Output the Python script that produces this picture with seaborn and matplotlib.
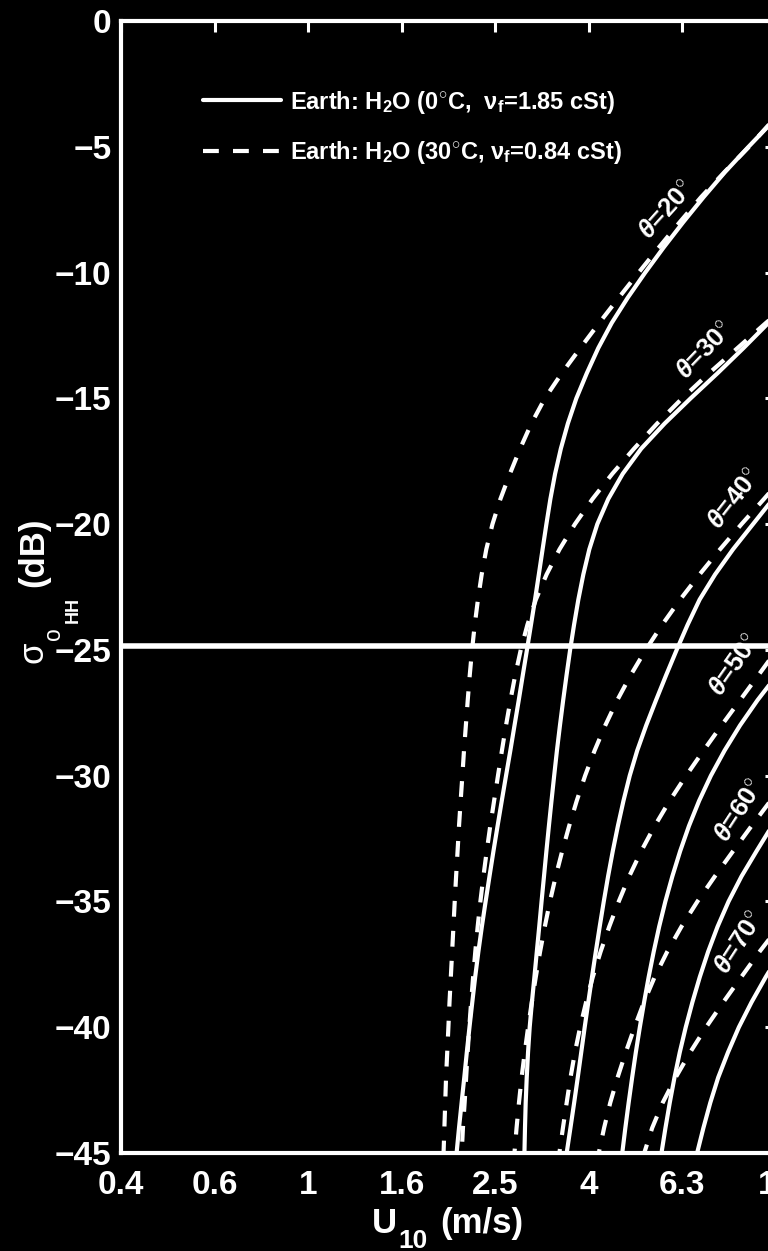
import matplotlib
matplotlib.use("Agg")
import matplotlib.pyplot as plt
from matplotlib.lines import Line2D
from matplotlib.ticker import FixedLocator, FixedFormatter, NullLocator
import pandas as pd
import seaborn as sns

# ---------------------------------------------------------------------------
# Backscatter sigma0_HH (dB) versus wind speed U10 (m/s), water at 0 C and 30 C
# ---------------------------------------------------------------------------

# theta = 20 deg
sig_0c_20 = [-3.9, -5, -6, -7, -8, -9, -10, -11, -12, -13, -14, -15, -16, -17, -18, -19,
             -20, -21, -22, -23, -24, -25, -26, -27, -28, -29, -30, -31, -32, -33, -34,
             -35, -36, -37, -38, -39, -40, -41, -42, -43, -44, -45]
u10_0c_20 = [9.95, 8.735, 7.783, 7.002, 6.332, 5.753, 5.253, 4.820, 4.456, 4.170, 3.941,
             3.743, 3.590, 3.468, 3.371, 3.294, 3.230, 3.170, 3.112, 3.054, 2.994, 2.935,
             2.876, 2.819, 2.761, 2.705, 2.648, 2.593, 2.540, 2.489, 2.441, 2.395, 2.351,
             2.311, 2.275, 2.243, 2.212, 2.183, 2.156, 2.128, 2.101, 2.076]
sig_30c_20 = [-3.85, -5, -6, -7, -8, -9, -10, -11, -12, -13, -14, -15, -16, -17, -18, -19,
              -20, -21, -22, -23, -24, -25, -26, -27, -28, -29, -30, -31, -32, -33, -34,
              -35, -36, -37, -38, -39, -40, -42, -44, -45]
u10_30c_20 = [9.95, 8.757, 7.764, 6.917, 6.224, 5.619, 5.086, 4.612, 4.190, 3.817, 3.485,
              3.206, 3.000, 2.838, 2.699, 2.576, 2.477, 2.403, 2.349, 2.306, 2.270, 2.240,
              2.215, 2.193, 2.173, 2.153, 2.136, 2.118, 2.101, 2.086, 2.071, 2.057, 2.044,
              2.031, 2.018, 2.005, 1.994, 1.971, 1.955, 1.947]

# theta = 30 deg
sig_0c_30 = [-11.75, -12, -13, -14, -15, -16, -17, -18, -19, -20, -21, -22, -23, -24, -25,
             -26, -27, -28, -29, -30, -31, -32, -33, -34, -35, -36, -37, -38, -39, -40,
             -41, -42, -43, -44, -45]
u10_0c_30 = [9.95, 9.637, 8.523, 7.501, 6.569, 5.781, 5.151, 4.703, 4.380, 4.150, 3.990,
             3.874, 3.780, 3.701, 3.630, 3.567, 3.508, 3.453, 3.402, 3.356, 3.312, 3.270,
             3.230, 3.192, 3.154, 3.118, 3.081, 3.045, 3.008, 2.975, 2.951, 2.932, 2.917,
             2.907, 2.899]
sig_30c_30 = [-11.7, -12, -13, -14, -15, -16, -17, -18, -19, -20, -21, -22, -23, -24, -25,
              -26, -27, -28, -29, -30, -31, -32, -33, -34, -35, -36, -37, -38, -39, -40,
              -41, -42, -43, -44, -45]
u10_30c_30 = [9.95, 9.520, 8.276, 7.194, 6.301, 5.572, 4.972, 4.467, 4.053, 3.717, 3.446,
              3.233, 3.067, 2.942, 2.847, 2.771, 2.706, 2.648, 2.595, 2.545, 2.497, 2.450,
              2.408, 2.369, 2.334, 2.303, 2.276, 2.252, 2.230, 2.210, 2.192, 2.176, 2.160,
              2.142, 2.129]

# theta = 40 deg
sig_0c_40 = [-18.9, -19.3, -20, -21, -22, -23, -24, -25, -26, -27, -28, -29, -30, -31, -32,
             -33, -34, -35, -36, -37, -38, -39, -40, -41, -42, -43, -44, -45]
u10_0c_40 = [9.95, 9.567, 8.930, 8.095, 7.410, 6.866, 6.473, 6.133, 5.824, 5.540, 5.279,
             5.051, 4.868, 4.720, 4.592, 4.478, 4.376, 4.284, 4.199, 4.119, 4.043, 3.970,
             3.900, 3.834, 3.769, 3.703, 3.636, 3.569]
sig_30c_40 = [-18.5, -19, -20, -21, -22, -23, -24, -25, -26, -27, -28, -29, -30, -31, -32,
              -33, -34, -35, -36, -37, -38, -39, -40, -41, -42, -43, -44, -45]
u10_30c_40 = [9.95, 9.427, 8.440, 7.594, 6.866, 6.239, 5.711, 5.266, 4.892, 4.578, 4.316,
              4.095, 3.908, 3.750, 3.613, 3.491, 3.382, 3.287, 3.205, 3.131, 3.066, 3.006,
              2.952, 2.903, 2.859, 2.822, 2.789, 2.760]

# theta = 50 deg
sig_0c_50 = [-26.1, -27, -28, -29, -30, -31, -32, -33, -34, -35, -36, -37, -38, -39, -40,
             -41, -42, -43, -44, -45]
u10_0c_50 = [9.95, 9.130, 8.378, 7.764, 7.258, 6.849, 6.515, 6.239, 6.004, 5.801, 5.627,
             5.477, 5.344, 5.225, 5.116, 5.016, 4.926, 4.842, 4.764, 4.692]
sig_30c_50 = [-25.1, -26, -27, -28, -29, -30, -31, -32, -33, -34, -35, -36, -37, -38, -39,
              -40, -41, -42, -43, -44, -45]
u10_30c_50 = [9.95, 9.175, 8.378, 7.650, 7.002, 6.426, 5.925, 5.504, 5.151, 4.856, 4.612,
              4.401, 4.217, 4.059, 3.927, 3.813, 3.717, 3.637, 3.569, 3.504, 3.443]

# theta = 60 deg
sig_0c_60 = [-31.8, -32, -33, -34, -35, -36, -37, -38, -39, -40, -41, -42, -43, -44, -45]
u10_0c_60 = [9.95, 9.804, 9.086, 8.440, 7.918, 7.501, 7.159, 6.873, 6.628, 6.413, 6.227,
             6.067, 5.928, 5.804, 5.691]
sig_30c_60 = [-30.8, -31, -32, -33, -34, -35, -36, -37, -38, -39, -40, -41, -42, -43, -44,
              -45]
u10_30c_60 = [9.95, 9.732, 8.865, 8.095, 7.402, 6.793, 6.279, 5.853, 5.504, 5.222, 4.984,
              4.773, 4.585, 4.423, 4.291, 4.180]

# theta = 70 deg
sig_0c_70 = [-37.4, -38, -39, -40, -41, -42, -43, -44, -45]
u10_0c_70 = [9.95, 9.510, 8.869, 8.329, 7.895, 7.523, 7.237, 6.996, 6.782]
sig_30c_70 = [-36.2, -37, -38, -39, -40, -41, -42, -43, -44, -45]
u10_30c_70 = [9.95, 9.220, 8.432, 7.718, 7.089, 6.553, 6.102, 5.725, 5.437, 5.228]

# Reference level drawn across the whole plot
sigma_ref = -24.85

# Axis ticks
x_tick_values = [0.398, 0.631, 1.0, 1.585, 2.512, 3.981, 6.310, 10.0]
x_tick_labels = ["0.4", "0.6", "1", "1.6", "2.5", "4", "6.3", "10"]
y_tick_values = [0, -5, -10, -15, -20, -25, -30, -35, -40, -45]

angle_names = [20, 30, 40, 50, 60, 70]
legend_labels = [
    r"Earth: H$_\mathbf{2}$O (0$^{\circ}$C,  $\mathrm{\nu}_\mathbf{f}$=1.85 cSt)",
    r"Earth: H$_\mathbf{2}$O (30$^{\circ}$C, $\mathrm{\nu}_\mathbf{f}$=0.84 cSt)",
]

# ---------------------------------------------------------------------------
curves = [
    (20, "0C", u10_0c_20, sig_0c_20), (20, "30C", u10_30c_20, sig_30c_20),
    (30, "0C", u10_0c_30, sig_0c_30), (30, "30C", u10_30c_30, sig_30c_30),
    (40, "0C", u10_0c_40, sig_0c_40), (40, "30C", u10_30c_40, sig_30c_40),
    (50, "0C", u10_0c_50, sig_0c_50), (50, "30C", u10_30c_50, sig_30c_50),
    (60, "0C", u10_0c_60, sig_0c_60), (60, "30C", u10_30c_60, sig_30c_60),
    (70, "0C", u10_0c_70, sig_0c_70), (70, "30C", u10_30c_70, sig_30c_70),
]
df = pd.concat(
    [pd.DataFrame({"U10": u, "sigma": s, "theta": th, "water": w}) for th, w, u, s in curves],
    ignore_index=True,
)

sns.set_style("dark", rc={
    "axes.facecolor": "black",
    "figure.facecolor": "black",
    "axes.edgecolor": "white",
    "axes.labelcolor": "white",
    "text.color": "white",
    "xtick.color": "white",
    "ytick.color": "white",
    "axes.grid": False,
})
plt.rcParams["font.family"] = ["Liberation Sans", "DejaVu Sans"]
plt.rcParams["font.weight"] = "bold"
plt.rcParams["mathtext.fontset"] = "custom"
plt.rcParams["mathtext.rm"] = "Liberation Sans"
plt.rcParams["mathtext.it"] = "Liberation Sans:italic"
plt.rcParams["mathtext.bf"] = "Liberation Sans:bold"

W, H = 768, 1251
fig = plt.figure(figsize=(W / 100, H / 100), dpi=100, facecolor="black")
# plot box: left spine at x=121 px, right spine at x=776 px (just past the image edge)
ax = fig.add_axes([121 / W, (H - 1153) / H, 655 / W, 1132 / H])
ax.set_facecolor("black")
ax.set_xscale("log")

LW = 3.0
DASH = (3.8, 3.4)
sns.lineplot(
    data=df, x="U10", y="sigma", units="theta", style="water",
    style_order=["0C", "30C"], dashes={"0C": "", "30C": DASH},
    estimator=None, sort=False, color="white", linewidth=LW, legend=False, ax=ax,
)
ax.axhline(sigma_ref, color="white", lw=4.0, zorder=3)

ax.set_xlim(0.398, 10.0)
ax.set_ylim(-45, 0)
ax.xaxis.set_major_locator(FixedLocator(x_tick_values))
ax.xaxis.set_major_formatter(FixedFormatter(x_tick_labels))
ax.xaxis.set_minor_locator(NullLocator())
ax.set_yticks(y_tick_values)
ax.set_yticklabels(["0" if v == 0 else "\u2212%d" % abs(v) for v in y_tick_values])
ax.set_xlabel("")
ax.set_ylabel("")

for sp in ax.spines.values():
    sp.set_visible(True)
    sp.set_color("white")
    sp.set_linewidth(3.0)

ax.tick_params(axis="both", which="both", direction="in", length=8, width=2.2,
               top=True, right=True, colors="white", labelsize=24)
ax.tick_params(axis="x", pad=12)
ax.tick_params(axis="y", pad=7)
for lab in ax.get_xticklabels() + ax.get_yticklabels():
    lab.set_fontweight("bold")


def fig_text(x_px, y_px, s, **kw):
    """Place text at a pixel position measured from the top-left corner."""
    return fig.text(x_px / W, 1 - y_px / H, s, color="white", **kw)


# x-axis title: U with a large lowered subscript, then the unit
fig_text(372, 1233, "U", fontsize=25, fontweight="bold", ha="left", va="baseline")
fig_text(398, 1248, "10", fontsize=19, fontweight="bold", ha="left", va="baseline")
fig_text(440, 1233, "(m/s)", fontsize=25, fontweight="bold", ha="left", va="baseline")

# y-axis title, rotated: sigma, stacked subscripts o and HH, then the unit
rot = dict(rotation=90, rotation_mode="anchor", ha="center", va="baseline")
fig_text(43, 552, "(dB)", fontsize=25, fontweight="bold", **rot)
fig_text(43, 652, "\u03c3", fontsize=25, fontweight="normal", **rot)
fig_text(60, 634, "o", fontsize=16.5, fontweight="normal", **rot)
fig_text(78, 610, "HH", fontsize=13, fontweight="bold", **rot)

# incidence-angle annotations along the curves
label_pos = [(5.85, -7.5, 48), (7.05, -13.1, 46), (8.13, -19.0, 52),
             (8.17, -25.6, 55), (8.34, -31.4, 57), (8.34, -36.65, 57)]
for ang, (lx, ly, r) in zip(angle_names, label_pos):
    ax.text(lx, ly, r"$\theta$=%d$^{\circ}$" % ang, rotation=r, ha="center",
            va="center", fontsize=19, fontweight="bold", color="white", zorder=5)

handles = [Line2D([], [], color="white", lw=LW),
           Line2D([], [], color="white", lw=LW, dashes=DASH)]
leg = ax.legend(handles, legend_labels, loc="upper left",
                bbox_to_anchor=(203 / W, 1 - 88.5 / H), bbox_transform=fig.transFigure,
                frameon=False, prop={"weight": "bold", "size": 17},
                handlelength=3.3, handletextpad=0.4, labelspacing=1.0,
                borderpad=0, borderaxespad=0)
for t in leg.get_texts():
    t.set_color("white")

fig.savefig("out.png", dpi=100, facecolor="black")
